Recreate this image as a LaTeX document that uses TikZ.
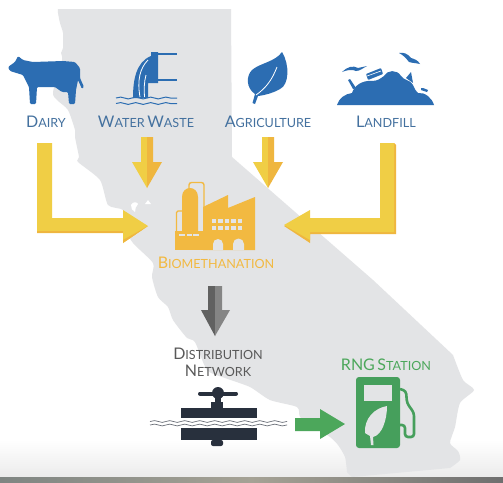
\documentclass[tikz,border=0pt]{standalone}
\usepackage{fontspec}
\setmainfont{Lato}
\usepackage{tikz}
\usetikzlibrary{positioning}
\usetikzlibrary{decorations.pathmorphing}
\definecolor{stategrey}{HTML}{E3E4E6}
\definecolor{iconblue}{HTML}{2C6DB2}
\definecolor{textblue}{HTML}{44719F}
\definecolor{yellowlight}{HTML}{F0CE45}
\definecolor{yellowdark}{HTML}{EFB63F}
\definecolor{factoryyellow}{HTML}{F2B941}
\definecolor{darkslate}{HTML}{28303D}
\definecolor{pumpgreen}{HTML}{469F5C}
\definecolor{arrowgreen}{HTML}{4CA75B}
\definecolor{bandleft}{HTML}{7F8582}
\definecolor{bandmid}{HTML}{A5A295}
\definecolor{bandright}{HTML}{6F6F6F}
\newcommand{\capword}[2]{{\fontsize{16}{16}\selectfont #1}{\fontsize{12.6}{16}\selectfont #2}}
\tikzset{
    sourcetext/.style={text=textblue, inner sep=0pt, align=center},
    wave/.style={decorate, decoration={snake, segment length=15pt, amplitude=0.9pt}},
}

\begin{document}
\begin{tikzpicture}[x=1pt, y=-1pt]
    \useasboundingbox (0,0) rectangle (503,482);
    \fill [white] (0,0) rectangle (503,482);

    % bottom fade and edge
    \fill [top color=white, bottom color=black!8] (0,440) rectangle (503,478);
    \fill [left color=bandleft, right color=bandright, middle color=bandmid] (0,477.5) rectangle (503,482);

    % state outline
    \fill [stategrey] (58,9) -- (231,9) -- (232,157) -- (373,280) -- (453,355)
        -- plot [smooth, tension=0.4] coordinates {(453,355) (463,380) (474,390) (460,403) (455,427) (450,443) (458,451) (460,460) (450,468)}
        -- (352,477) -- (347,472)
        -- plot [smooth, tension=0.4] coordinates {(347,472) (345,457) (338,445) (330,437) (312,425) (300,417) (297,407) (270,400) (250,387) (225,378) (207,370) (195,342) (187,338) (173,320) (168,307) (158,297) (152,277) (153,263) (133,243) (123,225) (123,210) (108,205) (100,180) (78,162) (79,157) (75,137) (75,130) (68,110) (57,100) (53,92) (62,60) (61,53) (63,48) (63,33) (60,23) (58,13) (58,9)}
        -- cycle;
    \fill [white] (131,205) .. controls (133,201) and (137,202) .. (138,204) .. controls (136,206) and (135,209) .. (135,212) .. controls (132,211) and (131,208) .. (131,205) -- cycle;
    \fill [white] (145,204) -- (148,200) -- (151,204) -- cycle;

    % dairy
    \fill [iconblue, rounded corners=1.2pt] (18,56) -- (23,60) -- (33,62) -- (63,61) -- (75,62) -- (80,68)
        -- (80,78) -- (84,87) -- (82,89) -- (78,80) -- (76,90) -- (75,104) -- (69,104) -- (68,92) -- (62,92)
        -- (55,87) -- (37,87) -- (36,104) -- (30,104) -- (29,87) -- (23,75) -- (10,71) -- (8,67) -- (15,62) -- cycle;

    % water waste
    \fill [iconblue] (151,52) -- (158,52) -- (158,83) -- (148,83) -- (148,98) -- (133,98)
        .. controls (133,80) and (136,62) .. (151,56) -- cycle;
    \draw [white, line width=0.8pt] (140,97) .. controls (137,80) and (140,68) .. (148,60);
    \draw [white, line width=0.8pt] (146,75) .. controls (144,82) and (144,90) .. (144.5,97);
    \draw [iconblue, line width=1.6pt] (158,54) -- (177,54);
    \draw [iconblue, line width=1.6pt] (158,80) -- (177,80);
    \draw [iconblue, line width=1pt, wave] (116,98) -- (177,98);
    \draw [iconblue, line width=1pt, wave] (116,103.5) -- (177,103.5);

    % agriculture
    \fill [iconblue] (282,52) .. controls (290,65) and (289,85) .. (280,89) .. controls (273,93) and (266,95) .. (258,96)
        -- (255,104) -- (252.5,103) -- (255,94) .. controls (246,88) and (246,76) .. (252,70) .. controls (260,63) and (275,62) .. (282,52) -- cycle;
    \draw [white, line width=0.8pt] (256,95) .. controls (266,88) and (272,80) .. (277,67);

    % landfill
    \fill [iconblue] (337,105) .. controls (339,98) and (345,94) .. (352,93) .. controls (354,86) and (362,80) .. (372,81)
        .. controls (378,81) and (381,78) .. (384,76) .. controls (387,70) and (397,69) .. (401,76)
        .. controls (403,80) and (411,80) .. (413,85) .. controls (415,89) and (416,92) .. (418,93)
        .. controls (425,92) and (432,98) .. (434,105) -- cycle;
    \fill [iconblue] (342,72) .. controls (347,67) and (353,65) .. (358,68) .. controls (361,68) and (364,66) .. (367,66)
        .. controls (363,68) and (360,71) .. (356,71) .. controls (352,69) and (347,70) .. (342,72) -- cycle;
    \fill [iconblue] (399,53) .. controls (404,52) and (408,54) .. (411,58) .. controls (414,59) and (418,60) .. (420,64)
        .. controls (416,63) and (412,63) .. (409,62) .. controls (406,58) and (403,55) .. (399,53) -- cycle;
    \fill [iconblue, rounded corners=0.8pt] (366,74) -- (381,68) -- (383,74) -- (368,80) -- cycle;
    \draw [white, line width=0.6pt] (367,76) -- (381,71);
    \fill [iconblue] (348,80) -- (350,79) -- (356,88) -- (353,89) -- cycle;
    \fill [iconblue] (411,72) -- (413,83) -- (406,78) -- cycle;
    \fill [iconblue] (421,88) -- (423,88) -- (428,90) -- (427,92) -- (421,90) -- cycle;

    % labels of the sources
    \node [sourcetext] (dairy) at (46,122) {\capword{D}{AIRY}};
    \node [sourcetext] (water) at (146,122) {\capword{W}{ATER} \capword{W}{ASTE}};
    \node [sourcetext] (agri) at (268,122) {\capword{A}{GRICULTURE}};
    \node [sourcetext] (landfill) at (386,122) {\capword{L}{ANDFILL}};

    % yellow arrows
    \fill [yellowlight] (37,143) -- (52,143) -- (52,218) -- (123,218) -- (123,210) -- (148,226) -- (123,243) -- (123,233) -- (37,233) -- cycle;
    \fill [yellowdark] (37,231) -- (123,231) -- (123,233) -- (37,233) -- cycle;
    \fill [yellowdark] (123,243) -- (148,226) -- (123,240) -- cycle;

    \fill [yellowlight] (141,137) -- (147,137) -- (147,188) -- (132,162) -- (141,162) -- cycle;
    \fill [yellowdark] (147,137) -- (153,137) -- (153,162) -- (162,162) -- (147,188) -- cycle;
    \fill [yellowlight] (262,137) -- (268,137) -- (268,188) -- (253,162) -- (262,162) -- cycle;
    \fill [yellowdark] (268,137) -- (274,137) -- (274,162) -- (283,162) -- (268,188) -- cycle;

    \fill [yellowdark] (380,143) -- (394,143) -- (396,145) -- (396,234) -- (310,234) -- (310,243) -- (284,226) -- (310,218) -- (380,218) -- cycle;
    \fill [yellowlight] (380,143) -- (394,143) -- (394,232) -- (310,232) -- (310,240) -- (284,225) -- (310,210) -- (310,218) -- (380,218) -- cycle;

    % biomethanation
    \fill [factoryyellow] (175,231) rectangle (255,250);
    \fill [factoryyellow] (182,231) -- (182,197) .. controls (182,191) and (186,188) .. (190,188) .. controls (194,188) and (198,191) .. (198,197) -- (198,231) -- cycle;
    \fill [factoryyellow] (203,250) -- (203,207) -- (228,195) -- (228,208) -- (255,197) -- (255,250) -- cycle;
    \draw [factoryyellow, line width=1.4pt, rounded corners=2.5pt] (189,189) -- (189,182.5) -- (204,182.5) -- (204,208);
    \draw [factoryyellow, line width=1.4pt, rounded corners=1.5pt] (176.5,232) -- (176.5,211) -- (182,211);
    \fill [stategrey] (213,250) -- (213,244) arc [start angle=180, end angle=360, radius=5] -- (223,250) -- cycle;
    \fill [stategrey] (233,250) -- (233,244) arc [start angle=180, end angle=360, radius=5.5] -- (244,250) -- cycle;
    \foreach \wx in {212,218.4,224.8,231.2,237.6} {
        \foreach \wy in {219,226} {
            \fill [stategrey] (\wx,\wy) rectangle ++(4.4,4.3);
        }
    }
    \foreach \dx/\dw in {179/6,186.5/5.5,193/6} {
        \fill [stategrey] (\dx,233.5) rectangle ++(\dw,2.5);
    }
    \node [inner sep=0pt, text=factoryyellow] (bio) at (216,263) {\capword{B}{IOMETHANATION}};

    % grey arrow
    \fill [black!62] (208,286) -- (215,286) -- (215,336) -- (201,310) -- (208,310) -- cycle;
    \fill [black!48] (215,286) -- (222,286) -- (222,310) -- (230,310) -- (215,336) -- cycle;

    % distribution network
    \node [inner sep=0pt, text=black!65] (dist) at (218,354) {\capword{D}{ISTRIBUTION}};
    \node [inner sep=0pt, text=black!65, below=5pt of dist] (net) {\capword{N}{ETWORK}};

    \fill [darkslate] (181,408) rectangle (257,418);
    \fill [darkslate] (181,428) rectangle (257,440);
    \fill [darkslate] (211,402) rectangle (223,408);
    \fill [darkslate] (215,395) rectangle (221,403);
    \fill [darkslate, rounded corners=2pt] (211,440) -- (223,440) -- (223,446) -- (211,446) -- cycle;
    \draw [darkslate, line width=4pt, line cap=round] (200,393.5) -- (236,393.5);
    \fill [darkslate] (218,393) circle [radius=6];
    \draw [darkslate!70, line width=0.7pt, wave] (150,421.5) -- (287,421.5);
    \draw [darkslate!70, line width=0.7pt, wave] (150,425) -- (287,425);

    % green arrow
    \fill [arrowgreen] (295,418) -- (320,418) -- (320,409) -- (345,424) -- (320,439) -- (320,431) -- (295,431) -- cycle;

    % rng station
    \node [inner sep=0pt, text=arrowgreen] (rng) at (386,365) {\capword{RNG}{} \capword{S}{TATION}};
    \fill [pumpgreen, rounded corners=3pt] (356,377) rectangle (400,448);
    \fill [stategrey] (364,385) rectangle (392,401);
    \draw [pumpgreen, line width=2.6pt, rounded corners=3pt] (400,389) -- (406,391) -- (407,403) -- (414,413) -- (414,437) -- (405,437) -- (405,425) -- (400,425);
    \fill [stategrey] (387,406) .. controls (375,408) and (364,418) .. (365,433) -- (370,436) -- (371,445) -- (373.5,445) -- (373,437)
        .. controls (382,435) and (387,420) .. (387,406) -- cycle;

\end{tikzpicture}
\end{document}
